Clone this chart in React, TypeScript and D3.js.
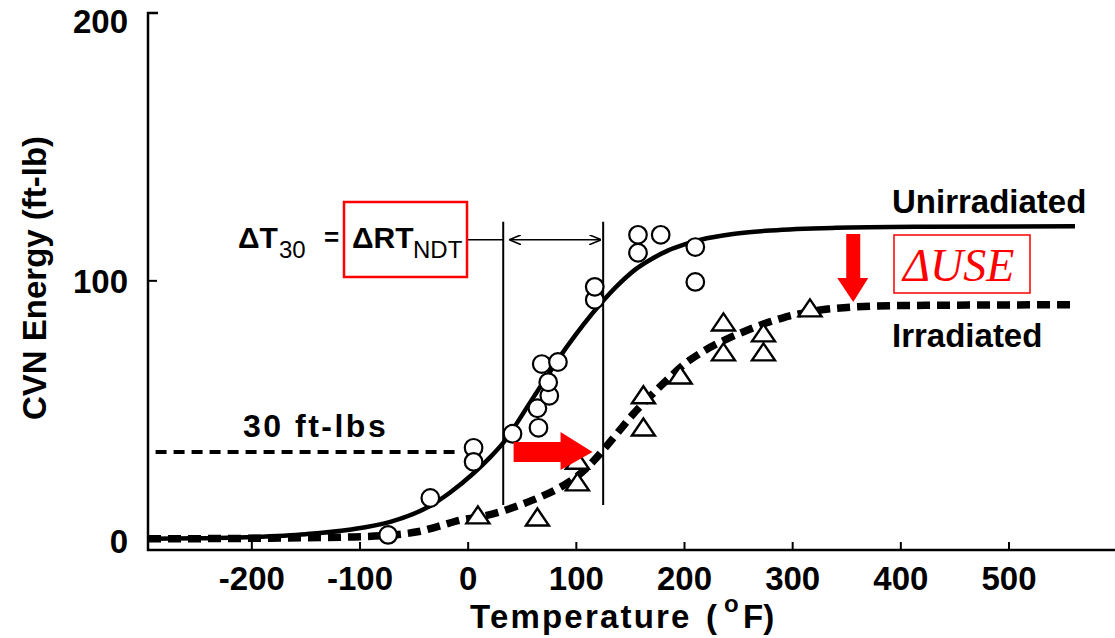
import React from 'react';
import * as d3 from 'd3';

const W = 1115;
const H = 638;

// Axis ticks
const xTicks = [-200, -100, 0, 100, 200, 300, 400, 500];
const yTicks = [0, 100, 200];

// Fitted transition curves [temperature °F, CVN ft-lb]
const unirradiatedCurve: [number, number][] = [
  [-296, 0.8], [-250, 1], [-200, 1.5], [-150, 2.6], [-110, 4.3], [-72, 7.3],
  [-35, 13.5], [-17, 18.5], [5, 26], [20, 32], [32, 37.5], [60, 55], [91, 74.5],
  [122, 91], [140, 99], [155, 104.5], [170, 108.5], [185, 111.7], [200, 114],
  [215, 115.8], [245, 118], [280, 119.4], [340, 120.4], [420, 120.8], [561, 121],
];
const irradiatedCurve: [number, number][] = [
  [-296, 0.8], [-200, 1], [-110, 1.5], [-69, 2.3], [-47, 3.5], [-29, 5.4],
  [-7, 8], [14, 9.5], [32, 11.5], [51, 14.3], [69, 17.3], [88, 21.3], [100, 24.6],
  [113, 29.5], [125, 35], [140, 42.5], [152, 48.5], [168, 55.5], [184, 62],
  [200, 68], [217, 72.8], [240, 77.8], [258, 81], [273, 83.4], [291, 85.8],
  [313, 87.9], [344, 89.6], [400, 90.5], [558, 90.8],
];

// Test data points
const unirradiatedData: [number, number][] = [
  [-74, 2.3], [-35, 16.5], [5, 35.8], [5, 30.4], [41, 41.2], [65, 43.5],
  [64, 51], [75, 55.8], [74, 61], [68, 68], [83, 68.8], [117, 92.7],
  [117, 97.7], [157, 117.7], [157, 110.8], [178, 117.7], [210, 113], [210, 99.6],
];
const irradiatedData: [number, number][] = [
  [9, 10], [64, 9.2], [101, 22.7], [101, 31], [162, 43.8], [162, 56.2],
  [196, 63.8], [236, 72.7], [236, 84.2], [273, 72.7], [273, 80], [316, 89.6],
];

// Annotation values
const level30 = 34.2;            // drawn "30 ft-lbs" level
const level30Range = [-289, -7]; // extent of dashed level line
const t30Shift = [32.4, 124.8];  // T30 of unirradiated / irradiated
const vLineRange = [13.8, 122.7];
const arrowLevel = 115.8;
const useShelves = [118, 91.9];  // down arrow from / to
const useArrowT = 356;
const shiftArrowT = [42, 115];

const FONT = "'Liberation Sans', Arial, Helvetica, sans-serif";

export default function App() {
  const x = d3.scaleLinear().domain([-296, 598]).range([148, 1115]);
  const y = d3.scaleLinear().domain([-3.5, 203]).range([550, 13]);

  const line = d3
    .line<[number, number]>()
    .x((d) => x(d[0]))
    .y((d) => y(d[1]))
    .curve(d3.curveMonotoneX);

  const triangle = 'M0,-8.5L11.5,8.5L-11.5,8.5Z';

  // right red arrow (shift)
  const ax0 = x(shiftArrowT[0]);
  const ax1 = x(shiftArrowT[1]);
  const ay = y(level30);
  const rightArrow = `M${ax0},${ay - 10}L${ax1 - 32},${ay - 10}L${ax1 - 32},${ay - 20}L${ax1},${ay}L${ax1 - 32},${ay + 18}L${ax1 - 32},${ay + 10}L${ax0},${ay + 10}Z`;

  // down red arrow (USE drop)
  const dx = x(useArrowT);
  const dy0 = y(useShelves[0]);
  const dy1 = y(useShelves[1]);
  const downArrow = `M${dx - 7},${dy0}L${dx + 7},${dy0}L${dx + 7},${dy1 - 24}L${dx + 15},${dy1 - 24}L${dx},${dy1}L${dx - 16},${dy1 - 24}L${dx - 7},${dy1 - 24}Z`;

  const arrowY = y(arrowLevel);

  return (
    <svg
      width={W}
      height={H}
      style={{ position: 'absolute', left: 0, top: 0, background: '#fff' }}
      fontFamily={FONT}
    >
      <defs>
        <marker id="ah" viewBox="0 0 12 10" refX="11" refY="5" markerWidth="12" markerHeight="10" markerUnits="userSpaceOnUse" orient="auto-start-reverse">
          <path d="M0,0L12,5L0,10" fill="none" stroke="#000" strokeWidth={1.6} />
        </marker>
      </defs>
      <rect width={W} height={H} fill="#fff" />

      {/* Axes */}
      <path
        d={`M${x(-296) + 10},${y(203)}H${x(-296)}V${y(-3.5)}H${W}`}
        fill="none"
        stroke="#000"
        strokeWidth={2.5}
      />
      {yTicks.map((v) => (
        <g key={'y' + v}>
          {v !== 200 && <line x1={x(-296)} x2={x(-296) + 9} y1={y(v)} y2={y(v)} stroke="#000" strokeWidth={2} />}
          <text x={128} y={y(v) + 12} textAnchor="end" fontSize={33} fontWeight="bold">
            {String(v)}
          </text>
        </g>
      ))}
      {xTicks.map((v) => (
        <g key={'x' + v}>
          <line x1={x(v)} x2={x(v)} y1={y(-3.5)} y2={y(-3.5) - 8} stroke="#000" strokeWidth={2} />
          <text x={x(v)} y={590} textAnchor="middle" fontSize={33} fontWeight="bold">
            {String(v)}
          </text>
        </g>
      ))}

      {/* Axis titles */}
      <text x={470} y={628} fontSize={33} fontWeight="bold" letterSpacing={2.2}>
        Temperature
      </text>
      <text x={706} y={628} fontSize={33} fontWeight="bold">(</text>
      <text x={724} y={612} fontSize={24} fontWeight="bold">o</text>
      <text x={743} y={628} fontSize={33} fontWeight="bold">F)</text>
      <text
        transform={`translate(46, 278) rotate(-90)`}
        textAnchor="middle"
        fontSize={33}
        fontWeight="bold"
      >
        CVN Energy (ft-lb)
      </text>

      {/* 30 ft-lbs level */}
      <line
        x1={x(level30Range[0])}
        x2={x(level30Range[1])}
        y1={y(level30)}
        y2={y(level30)}
        stroke="#000"
        strokeWidth={4}
        strokeDasharray="11 7"
      />
      <text x={243} y={437} fontSize={32} fontWeight="bold" letterSpacing={2.5}>
        30 ft-lbs
      </text>

      {/* vertical T30 lines */}
      {t30Shift.map((t) => (
        <line key={'v' + t} x1={x(t)} x2={x(t)} y1={y(vLineRange[0])} y2={y(vLineRange[1])} stroke="#000" strokeWidth={2} />
      ))}
      <line x1={x(t30Shift[0]) + 7} x2={x(t30Shift[1]) - 3} y1={arrowY} y2={arrowY} stroke="#000" strokeWidth={1.6} markerStart="url(#ah)" markerEnd="url(#ah)" />
      <line x1={467} x2={x(t30Shift[0])} y1={arrowY} y2={arrowY} stroke="#000" strokeWidth={1.6} />

      {/* Curves */}
      <path d={line(irradiatedCurve) || ''} fill="none" stroke="#000" strokeWidth={7.5} strokeDasharray="13 7" />
      <path d={line(unirradiatedCurve) || ''} fill="none" stroke="#000" strokeWidth={4.5} />

      {/* Data markers */}
      {unirradiatedData.map((d, i) => (
        <circle key={'c' + i} cx={x(d[0])} cy={y(d[1])} r={8.8} fill="#fff" stroke="#000" strokeWidth={2.2} />
      ))}
      {irradiatedData.map((d, i) => (
        <path key={'t' + i} d={triangle} transform={`translate(${x(d[0])},${y(d[1])})`} fill="#fff" stroke="#000" strokeWidth={2.4} strokeLinejoin="miter" />
      ))}

      {/* Labels */}
      <text x={892} y={213} fontSize={33} fontWeight="bold">Unirradiated</text>
      <text x={892} y={347} fontSize={33} fontWeight="bold">Irradiated</text>

      {/* Delta T30 = Delta RT_NDT */}
      <text x={238} y={248} fontSize={30} fontWeight="bold">ΔT</text>
      <text x={279} y={258} fontSize={24}>30</text>
      <text x={324} y={246} fontSize={26} fontWeight="bold">=</text>
      <rect x={344} y={202} width={123} height={75} fill="none" stroke="#ff0000" strokeWidth={2.5} />
      <text x={352} y={248} fontSize={30} fontWeight="bold">ΔRT</text>
      <text x={413} y={258} fontSize={24}>NDT</text>

      {/* Red arrows */}
      <path d={rightArrow} fill="#ff0000" />
      <path d={downArrow} fill="#ff0000" />

      {/* Delta USE */}
      <rect x={894} y={235} width={136} height={58} fill="none" stroke="#ff0000" strokeWidth={1.5} />
      <text x={903} y={281} fontSize={46} fontStyle="italic" fill="#ff0000" fontFamily="'Liberation Serif', 'DejaVu Serif', serif">
        ΔUSE
      </text>
    </svg>
  );
}
